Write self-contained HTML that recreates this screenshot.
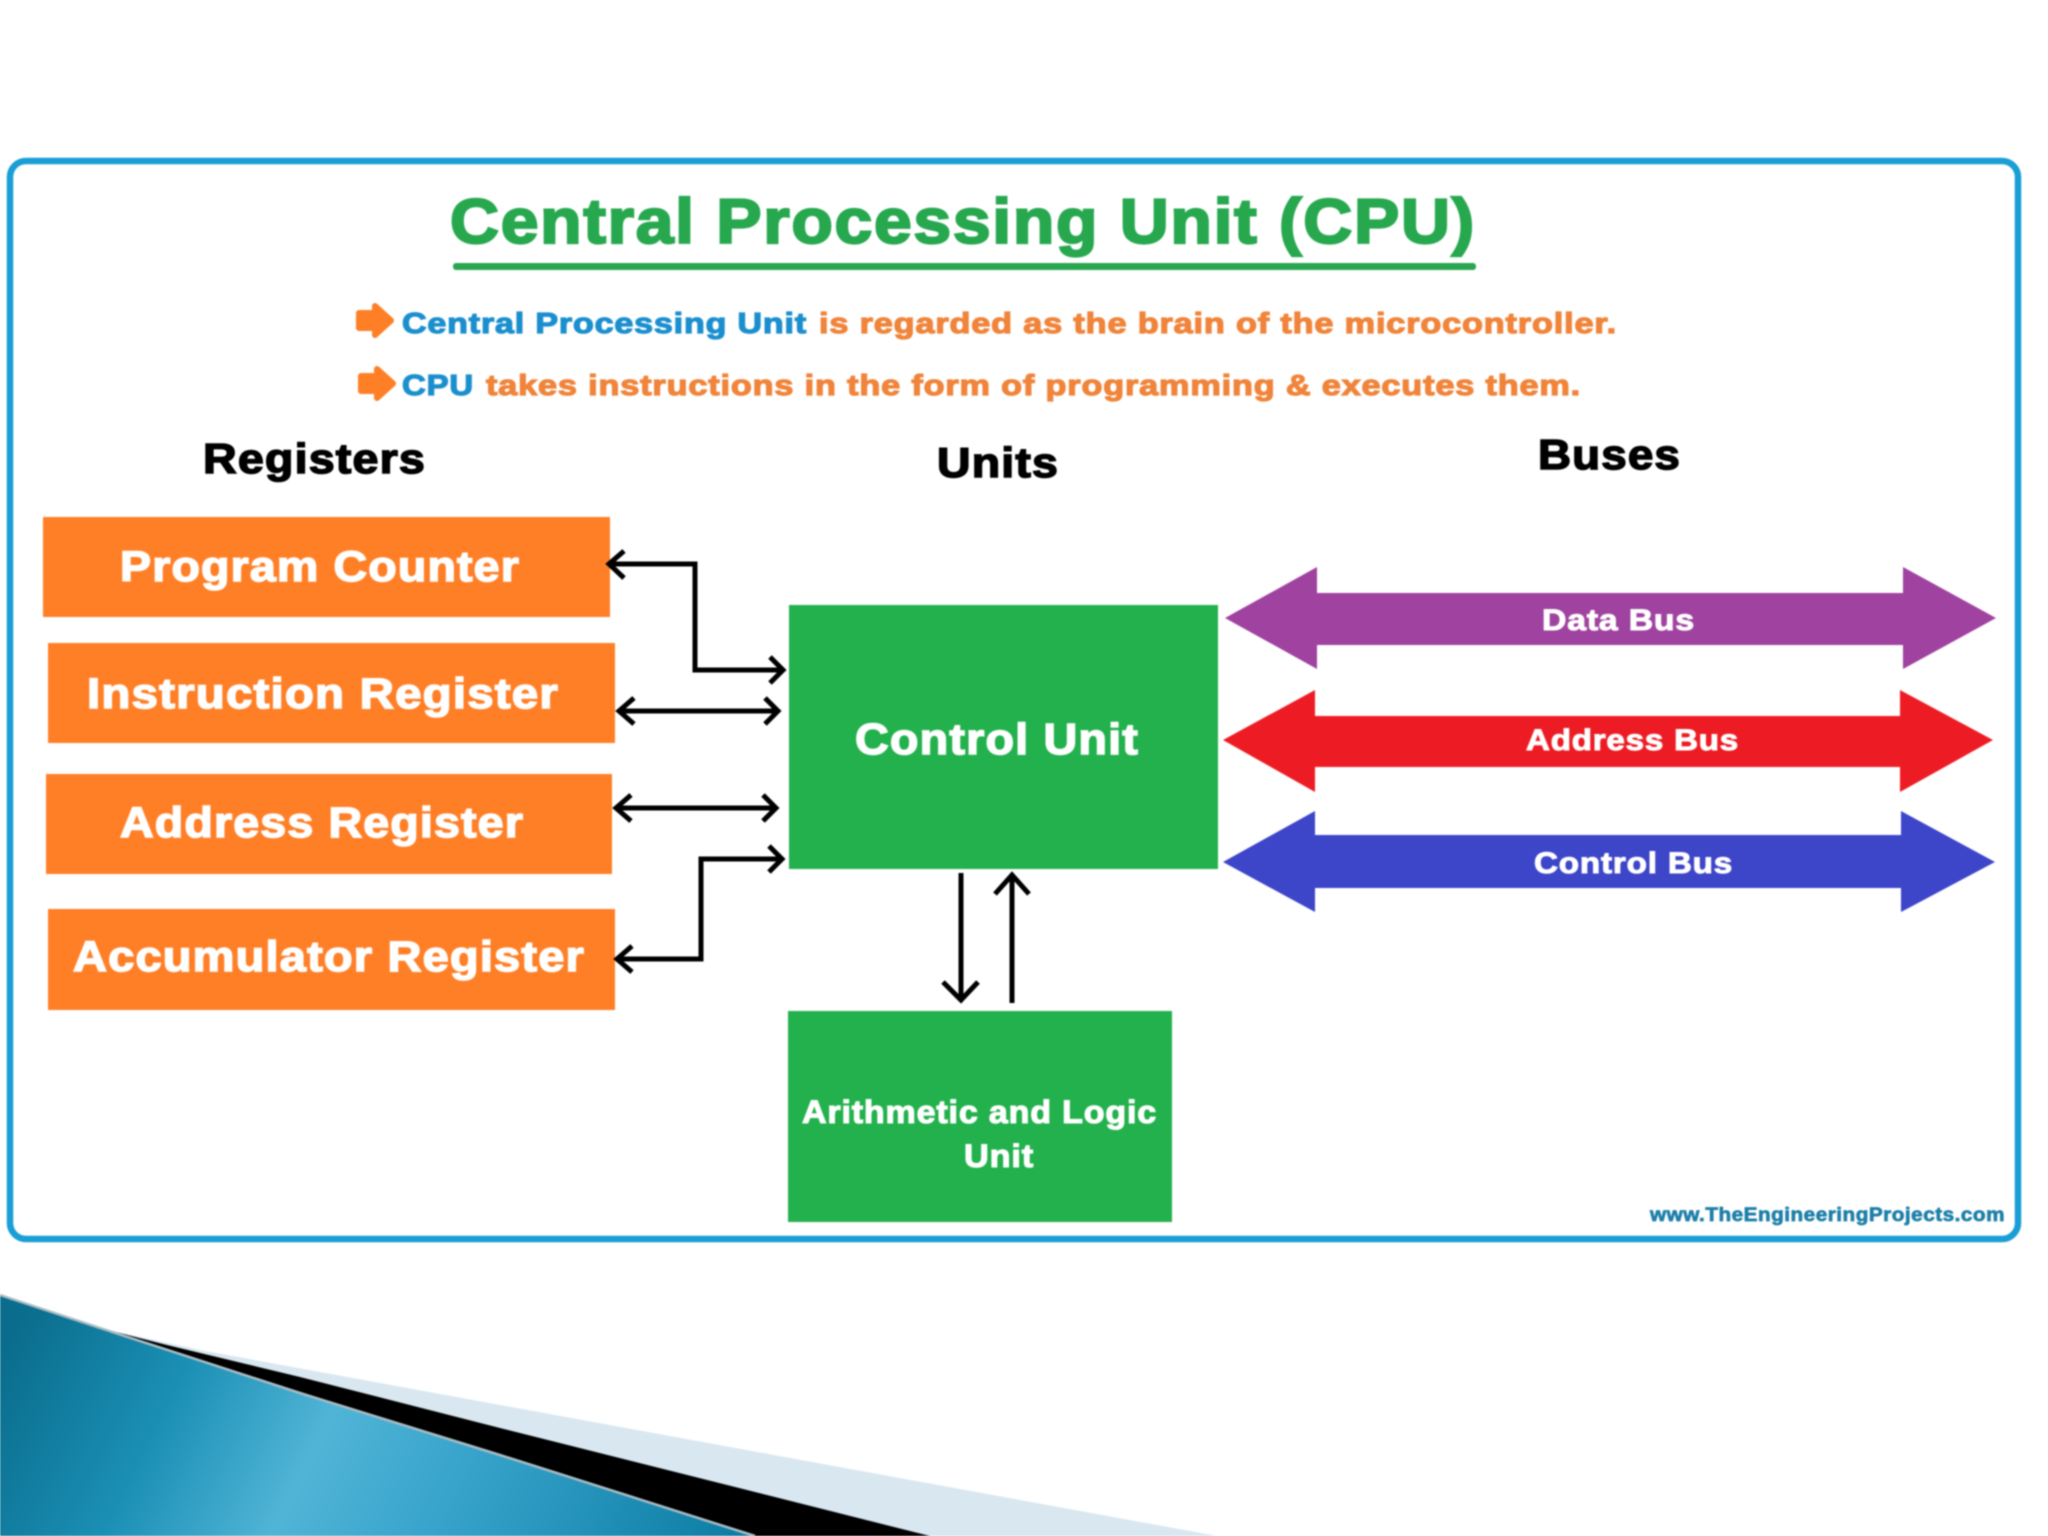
<!DOCTYPE html>
<html><head><meta charset="utf-8"><title>Central Processing Unit (CPU)</title>
<style>html,body{margin:0;padding:0;background:#fff}svg{display:block}
text{font-family:"Liberation Sans",sans-serif;font-weight:bold;letter-spacing:.025em}</style></head>
<body>
<svg width="2048" height="1536" viewBox="0 0 2048 1536" xmlns="http://www.w3.org/2000/svg">
<defs>
<linearGradient id="g" gradientUnits="userSpaceOnUse" x1="15" y1="1332" x2="695" y2="1672">
<stop offset="0" stop-color="#0a6d8d"/><stop offset=".22" stop-color="#1a8fb4"/><stop offset=".42" stop-color="#50b4d6"/><stop offset=".62" stop-color="#36a2ca"/><stop offset=".98" stop-color="#0b7ca3"/>
</linearGradient>
</defs>
<rect width="2048" height="1536" fill="#fff"/>
<g style="filter:blur(.8px)">
<!-- footer -->
<path d="M0 1295 L100 1328 L200 1350 L500 1405 L1217 1536 L0 1536Z" fill="#d8e7f0"/>
<path d="M0 1295 L100 1328 L167 1345 L300 1377 L500 1428 L930 1536 L0 1536Z" fill="#000"/>
<path d="M0 1295 L100 1328 L300 1393 L500 1455 L755 1536 L0 1536Z" fill="url(#g)"/>
<path d="M0 1295 L100 1328 L300 1393 L500 1455 L755 1536" fill="none" stroke="#a9bcc4" stroke-width="2.500"/>
<!-- panel -->
<rect x="10" y="161" width="2008" height="1078" rx="16" fill="#fff" stroke="#1a9ed6" stroke-width="6.500"/>
<!-- title -->
<text x="450" y="243" font-size="63" fill="#27a84f" stroke="#27a84f" stroke-width="2.200" textLength="1026" lengthAdjust="spacingAndGlyphs">Central Processing Unit (CPU)</text>
<rect x="453" y="263" width="1023" height="7" rx="3" fill="#2aa650"/>
<!-- bullets -->
<path d="M359 313H375V306L391 320.500L375 335V328H359Z" fill="#ff7f27" stroke="#ff7f27" stroke-width="6" stroke-linejoin="round"/>
<path d="M361 376H377V369L393 383.500L377 398V391H361Z" fill="#ff7f27" stroke="#ff7f27" stroke-width="6" stroke-linejoin="round"/>
<text x="402" y="333" font-size="29" fill="#1b8fce" stroke="#1b8fce" stroke-width="1.200" textLength="405" lengthAdjust="spacingAndGlyphs">Central Processing Unit</text>
<text x="819" y="333" font-size="29" fill="#f0843a" stroke="#f0843a" stroke-width="1.200" textLength="798" lengthAdjust="spacingAndGlyphs">is regarded as the brain of the microcontroller.</text>
<text x="402" y="395" font-size="29" fill="#1b8fce" stroke="#1b8fce" stroke-width="1.200" textLength="72" lengthAdjust="spacingAndGlyphs">CPU</text>
<text x="486" y="395" font-size="29" fill="#f0843a" stroke="#f0843a" stroke-width="1.200" textLength="1095" lengthAdjust="spacingAndGlyphs">takes instructions in the form of programming &amp; executes them.</text>
<!-- headings -->
<text x="203" y="473" font-size="42" fill="#000" stroke="#000" stroke-width="1.500" textLength="223" lengthAdjust="spacingAndGlyphs">Registers</text>
<text x="937" y="477" font-size="42" fill="#000" stroke="#000" stroke-width="1.500" textLength="122" lengthAdjust="spacingAndGlyphs">Units</text>
<text x="1538" y="469" font-size="42" fill="#000" stroke="#000" stroke-width="1.500" textLength="143" lengthAdjust="spacingAndGlyphs">Buses</text>
<!-- registers -->
<rect x="43" y="517" width="567" height="100" fill="#ff7f27"/>
<rect x="48" y="643" width="567" height="100" fill="#ff7f27"/>
<rect x="46" y="774" width="566" height="100" fill="#ff7f27"/>
<rect x="48" y="909" width="567" height="101" fill="#ff7f27"/>
<g fill="#fff" stroke="#fff" stroke-width="1.500" font-size="43">
<text x="120" y="581" textLength="400" lengthAdjust="spacingAndGlyphs">Program Counter</text>
<text x="87" y="708" textLength="472" lengthAdjust="spacingAndGlyphs">Instruction Register</text>
<text x="120" y="837" textLength="404" lengthAdjust="spacingAndGlyphs">Address Register</text>
<text x="73" y="971" textLength="512" lengthAdjust="spacingAndGlyphs">Accumulator Register</text>
</g>
<!-- units -->
<rect x="789" y="605" width="429" height="264" fill="#22b14c"/>
<rect x="788" y="1011" width="384" height="211" fill="#22b14c"/>
<text x="855" y="754" font-size="44" fill="#fff" stroke="#fff" stroke-width="1.500" textLength="284" lengthAdjust="spacingAndGlyphs">Control Unit</text>
<text x="802" y="1123" font-size="32" fill="#fff" stroke="#fff" stroke-width="1.100" textLength="355" lengthAdjust="spacingAndGlyphs">Arithmetic and Logic</text>
<text x="964" y="1167" font-size="32" fill="#fff" stroke="#fff" stroke-width="1.100" textLength="70" lengthAdjust="spacingAndGlyphs">Unit</text>
<!-- connectors -->
<g fill="none" stroke="#000" stroke-width="5">
<path d="M609 564H695V670H783"/><path d="M624 551L609 564L624 578"/><path d="M770 657L783 670L770 683"/>
<path d="M619 711H778"/><path d="M634 698L619 711L634 724"/><path d="M765 698L778 711L765 724"/>
<path d="M616 808H776"/><path d="M631 795L616 808L631 821"/><path d="M763 795L776 808L763 821"/>
<path d="M617 959H701V859H782"/><path d="M632 946L617 959L632 972"/><path d="M769 846L782 859L769 872"/>
<path d="M961 873V1000"/><path d="M943 982L961 1000L978 982"/>
<path d="M1012 875V1003"/><path d="M995 894L1012 875L1029 894"/>
</g>
<!-- buses -->
<path d="M1225 618L1317 567V593H1903V567L1996 618L1903 669V645H1317V669Z" fill="#a0429f"/>
<path d="M1223 740L1315 690V716H1900V690L1993 740L1900 792V767H1315V792Z" fill="#ed1c24"/>
<path d="M1223 862L1315 811V835H1901V811L1995 862L1901 912V888H1315V912Z" fill="#3d45c9"/>
<g fill="#fff" stroke="#fff" stroke-width="1" font-size="30">
<text x="1542" y="630" textLength="153" lengthAdjust="spacingAndGlyphs">Data Bus</text>
<text x="1526" y="750" textLength="213" lengthAdjust="spacingAndGlyphs">Address Bus</text>
<text x="1534" y="873" textLength="199" lengthAdjust="spacingAndGlyphs">Control Bus</text>
</g>
<text x="1650" y="1221" font-size="19" fill="#1d7fa8" stroke="#1d7fa8" stroke-width=".7" textLength="355" lengthAdjust="spacingAndGlyphs">www.TheEngineeringProjects.com</text>
</g>
</svg>
</body></html>
